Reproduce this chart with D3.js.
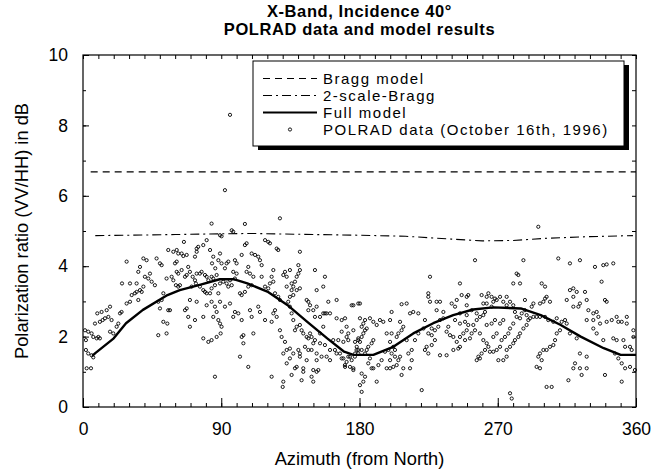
<!DOCTYPE html>
<html>
<head>
<meta charset="utf-8">
<script src="https://cdn.jsdelivr.net/npm/d3@7"></script>
<style>
  html, body { margin: 0; padding: 0; background: #fff; }
  svg { display: block; font-family: "Liberation Sans", Arial, Helvetica, sans-serif; }
</style>
</head>
<body>
<svg id="chart" width="653" height="473"></svg>
<script>
// ---------- data ----------
const titleLines = ["X-Band, Incidence 40°", "POLRAD data and model results"];
const xTitle = "Azimuth (from North)";
const yTitle = "Polarization ratio (VV/HH) in dB";
const xMajorTicks = [0, 90, 180, 270, 360];
const yMajorTicks = [0, 2, 4, 6, 8, 10];
const legendLabels = ["Bragg model", "2-scale-Bragg", "Full model", "POLRAD data (October 16th, 1996)"];

const braggAz = [5, 360];
const braggDb = [6.68, 6.68];

const twoScaleAz = [8, 30, 60, 90, 110, 150, 180, 210, 240, 260, 280, 300, 330, 358];
const twoScaleDb = [4.87, 4.88, 4.9, 4.92, 4.93, 4.9, 4.88, 4.85, 4.77, 4.72, 4.73, 4.79, 4.84, 4.87];

const fullAz = [6, 8, 20, 28, 39, 55, 63, 76, 89, 98, 107, 120, 133, 146, 159, 170, 176, 189, 202, 215, 228, 241, 254, 267, 285, 298, 311, 324, 339, 350, 360];
const fullDb = [1.45, 1.53, 1.95, 2.38, 2.76, 3.18, 3.32, 3.47, 3.63, 3.63, 3.51, 3.28, 2.9, 2.42, 1.95, 1.57, 1.48, 1.48, 1.71, 2.09, 2.38, 2.61, 2.77, 2.83, 2.8, 2.61, 2.33, 2.0, 1.67, 1.48, 1.48];

// POLRAD measurements [azimuth, ratio dB]
const polradA = [
[1.3,2.18],[3.4,2.14],[5.6,2.09],[6.7,1.99],[8.9,1.95],[1.9,1.62],[3.4,1.52],[5.6,1.47],[6.7,1.41],[2.4,1.1],[5.2,1.1],[1.9,1.9],[10,1.99],[11,1.95],[7.8,2.37],[11,2.42],[12.8,2.47],[9.3,2.66],[12.1,2.7],[15.4,2.75],[17.6,2.85],[14.3,2.52],[16.5,2.56],[18.6,2.47],[17.6,2.14],[19.7,2.09],[21.9,2.28],[23,2.37],[24.1,2.66],[25.1,2.7],[28.4,2.94],[30.6,2.99],[31.7,3.18],[33.8,3.23],[34.9,3.27],[37.1,3.32],[36,3.04],[38.2,3.27],[39.3,3.42],[25.4,3.51],[30.6,3.51],[34.9,3.51],[28.4,4.13],[36,3.84],[37.1,3.98],[39.3,4.22],[41.4,4.17],[40.3,3.7],[42.5,3.65],[43.6,3.79],[44.7,3.56],[46.8,3.46],[47.9,4.22],[50.1,4.08],[51.2,4.03],[49,2.99],[51.2,3.04],[52.3,3.23],[50.1,2.8],[49,2.04],[54.4,2.09],[52.3,2.42],[54.9,2.37],[55.5,2.75],[56.6,2.75],[54.4,3.65],[57.7,3.7],[58.8,3.6],[60.5,3.46],[62,3.42],[63.1,3.46],[61,3.84],[62,3.79],[64.2,3.89],[55.5,4.46],[58.8,4.41],[59.9,4.08],[61,4.13],[64.2,4.36],[65.3,4.29],[67.5,4.32],[68.5,3.98],[67.5,3.75],[66.4,3.7],[69.6,3.84],[71.4,3.7],[70.7,3.42],[73.5,3.51],[72.9,3.6],[74,3.79],[76.1,3.79],[77.2,3.84],[79.4,3.75],[80.5,3.7],[81.6,3.6],[83.7,3.7],[84.8,3.65],[87,3.75],[86.1,3.94],[84,4.08],[84.8,4.27],[88.1,4.17],[89.2,4.36],[90.2,4.08],[82.7,4.46],[80.5,4.74],[78.3,4.6],[74,4.41],[72.9,4.27],[74,4.5],[75,4.55],[65.7,4.69],[61,4.46],[62,4.36],[76.1,3.42],[78.3,3.32],[79.4,3.27],[80.5,3.23],[82.7,3.23],[83.7,3.37],[85.9,3.46],[89.2,3.51],[91.3,3.56],[93.5,3.51],[94.6,3.42],[96.8,3.46],[95.7,3.6],[98.9,3.65],[100,3.79],[97.8,3.84],[93.5,4.08],[94.6,4.13],[92.4,3.94],[95.7,2.94],[92.4,2.85],[89.2,2.99],[88.1,3.23],[85.9,2.85],[87,2.7],[84.8,2.56],[88.1,2.47],[89.2,2.37],[90.2,2.28],[89.6,2.09],[87,1.99],[83.7,1.9],[81.6,1.85],[78.3,1.95],[85.9,0.86],[74,2.99],[69.6,3.04],[67.5,2.8],[66.4,2.75],[68.5,2.56],[72.9,2.47],[69.6,2.28],[78.3,2.56],[80.5,2.89],[83.7,2.99],[92.4,6.16],[83.7,5.21],[89.2,4.88],[90.2,4.85],[96.8,5.02],[97.8,4.98],[105.4,5.2],[106.5,4.65],[105.4,4.6],[103.3,4.32],[100,4.08],[98.9,4.17],[98.9,2.7],[97.8,2.56],[101.1,2.66],[102.2,3.23],[103.3,3.18],[105.4,3.27],[107.6,3.42],[109.8,3.46],[110.9,3.7],[108.7,3.79],[106.5,3.84],[107.6,3.98],[109.8,4.36],[112,4.32],[114.1,4.27],[116.3,4.03],[115.2,4.17],[118.5,4.74],[120.6,4.69],[121.7,4.65],[126.1,4.5],[127.1,4.46],[128.2,5.36],[123.9,3.89],[122.8,3.7],[116.3,3.7],[118.5,3.42],[120.6,3.37],[121.7,3.51],[123.9,3.56],[125,3.23],[127.1,3.13],[128.2,3.04],[125,2.75],[123.9,2.66],[122.8,2.42],[118.5,2.47],[115.2,2.7],[114.1,2.85],[109.8,2.56],[108.7,2.75],[103.3,2.47],[104.4,2.04],[103.3,1.99],[104.4,1.81],[110.9,2.09],[107.6,1.14],[102.2,1.43],[122.8,0.86],[126.1,2.56],[128.2,2.18],[129.3,1.99],[131.5,1.85],[132.6,1.62],[130.4,1.52],[130.4,0.72],[130,0.57],[134.7,1.66],[136.9,1.52],[140.2,1.62],[141.2,1.52],[134.7,1.38],[132.6,1.24],[135.8,0.91],[138,1.1],[139.1,1.14],[141.2,1.43],[142.3,0.76],[145.6,1.33],[146.7,1.62],[144.5,1.71],[148.8,1.62],[149.9,1.81],[151,1.9],[148.8,1.99],[146.7,1.95],[145.6,1.99],[143.4,2.09],[142.3,2.18],[141.2,2.33],[139.1,2.28],[138,2.18],[136.9,2.47],[135.8,2.66],[134.7,2.85],[133.6,2.99],[134.7,3.13],[136.9,3.18],[136.9,3.42],[135.8,3.51],[138,3.56],[139.1,3.7],[140.2,3.79],[141.2,3.89],[134.7,3.89],[131.5,3.84],[132.6,3.7],[130.4,3.75],[132.6,3.42],[135.8,3.32],[139.1,3.32],[141.2,3.37],[141.2,4.41],[140.2,4.03],[145.6,3.04],[146.7,2.99],[147.8,2.89],[146.7,2.75],[149.9,2.75],[152.1,2.85],[151,2.56],[154.3,2.56],[156.4,2.66],[157.5,2.66],[158.6,2.66],[152.1,3.32],[156.4,3.42],[159.7,2.99],[165.1,3.04],[160.8,2.66],[165.1,2.52],[168.4,2.47],[171.6,2.28],[172.7,2.09],[172.7,1.9],[169.5,1.85],[166.2,1.9],[162.9,1.9],[164,1.62],[165.1,1.52],[168.4,1.38],[170.5,1.19],[171.6,1.28],[173.8,1.14],[176,1.05],[160.8,1.33],[158.6,1.43],[155.3,1.43],[152.1,1.33],[153.2,1.05],[149.9,1.05],[152.1,1.0],[148.8,0.86],[149.9,0.72],[143.4,1.1],[143.4,1.0],[147.8,2.09],[154.3,2.09],[156.4,2.28],[154.3,1.81],[157.5,1.76],[160.8,1.62],[152.1,1.52],[151,3.89],[157.5,3.7],[176,2.89],[179.2,2.94],[176,2.18],[179.2,1.95],[178.1,1.62],[173.8,1.43],[177,1.43],[179.2,1.52],[95.7,8.3]
];
const polradB = [
[170.6,2.52],[168.4,2.14],[171.6,1.99],[167.3,1.52],[169.5,1.38],[172.7,1.43],[174.9,1.33],[170.6,1.14],[176,1.1],[177.1,1.52],[179.2,1.62],[178.2,1.71],[180.3,1.85],[181.4,1.99],[182.5,2.09],[183.6,2.18],[184.7,2.23],[182.5,2.37],[183.6,2.47],[180.3,2.52],[181.4,2.28],[179.2,1.9],[177.1,1.85],[181.4,1.62],[183.6,1.52],[184.7,1.62],[185.7,1.71],[187.9,1.81],[189,1.9],[186.8,1.38],[185.7,1.24],[187.9,1.1],[181.4,0.95],[183.6,0.86],[182.5,0.72],[180.3,0.62],[181.4,0.43],[189,1.1],[191.2,0.72],[192.3,1.19],[194.4,1.33],[197.7,1.1],[199.9,1.1],[202,1.14],[204.2,1.19],[205.3,1.33],[206.4,1.43],[203.1,1.43],[200.9,1.52],[198.8,1.62],[196.6,1.57],[199.9,1.33],[203.1,1.62],[202,1.71],[199.9,1.85],[197.7,2.09],[200.9,2.09],[204.2,1.99],[205.3,2.09],[207.4,2.18],[208.5,2.28],[206.4,2.42],[199.9,2.47],[195.5,2.42],[189,2.42],[191.2,2.33],[193.3,2.47],[186.8,2.52],[174.9,2.89],[180.3,2.94],[200.9,2.7],[207.4,2.92],[210.7,2.94],[212.9,2.66],[215,2.7],[218.3,2.66],[222.6,2.47],[221.6,2.23],[218.3,2.09],[216.1,1.9],[214,1.62],[210.7,1.9],[211.8,1.52],[214,1.33],[207.4,0.91],[208.5,1.1],[212.9,1.1],[220.5,0.48],[223.7,1.71],[227,1.76],[224.8,1.52],[222.6,1.62],[224.8,2.09],[227,2.04],[229.1,2.18],[231.3,2.28],[232.4,2.47],[234.6,2.52],[234.6,2.7],[230.2,2.75],[225.9,2.99],[224.8,3.13],[224.8,3.23],[230.2,2.99],[232.4,2.99],[240,2.94],[243.3,3.04],[246.5,3.18],[249.8,3.13],[250.8,3.18],[225.9,3.7],[227,2.23],[229.1,1.9],[232.4,1.47],[236.7,1.47],[241.1,1.62],[244.3,1.66],[245.4,1.71],[243.3,1.85],[241.1,1.99],[238.9,2.04],[236.7,2.14],[237.8,2.28],[242.2,2.47],[245.4,2.37],[248.7,2.42],[250.8,2.33],[249.8,2.18],[247.6,2.09],[245.4,1.99],[248.7,1.9],[251.9,1.95],[253,2.09],[255.2,2.18],[254.1,2.33],[256.3,2.47],[249.8,2.61],[245.4,2.66],[242.2,2.85],[249.8,2.89],[253,2.75],[256.3,2.66],[258.4,2.56],[260.6,2.61],[261.7,2.7],[260.6,2.94],[259.5,3.18],[262.8,3.13],[263.9,3.23],[266,3.13],[262.8,2.94],[266,2.85],[267.1,2.99],[268.2,3.08],[269.3,3.04],[271.5,3.13],[273.6,2.99],[275.8,2.89],[275.8,3.13],[278,2.99],[280.1,2.89],[281.2,2.7],[282.3,2.56],[284.5,2.52],[280.1,2.37],[278,2.23],[276.9,2.09],[274.7,1.99],[272.5,1.9],[271.5,1.71],[269.3,1.62],[267.1,1.57],[264.9,1.57],[261.7,1.62],[259.5,1.52],[257.4,1.43],[256.3,1.33],[258.4,1.38],[267.1,1.99],[269.3,2.09],[271.5,2.37],[273.6,2.47],[268.2,2.47],[266,2.37],[262.8,2.33],[258.4,2.09],[260.6,1.9],[262.8,1.81],[263.9,1.71],[270.4,1.33],[273.6,1.33],[275.8,1.43],[275.8,1.62],[278,1.71],[280.1,1.81],[281.2,1.9],[283.4,1.99],[284.5,2.09],[286.7,2.23],[288.8,2.33],[289.9,2.47],[291,2.52],[293.2,2.56],[295.3,2.56],[288.8,2.61],[285.6,2.66],[287.7,2.75],[287.7,3.04],[292.1,2.85],[293.2,2.94],[284.5,3.51],[283.4,3.75],[282.3,3.79],[286.7,4.17],[280.1,3.51],[255.2,4.17],[245.4,3.51],[296.4,5.12],[298.6,3.51],[300.8,3.42],[301.8,3.13],[299.7,2.99],[297.5,2.94],[304,2.99],[300.8,3.08],[297.5,2.56],[300.8,2.56],[302.9,2.47],[306.2,2.42],[308.4,2.52],[311.6,2.42],[313.8,2.47],[314.9,2.37],[310.5,2.18],[308.4,2.09],[307.3,1.9],[306.2,1.76],[304,1.71],[301.8,1.62],[299.7,1.62],[297.5,1.52],[296.4,1.43],[298.6,1.33],[295.3,1.14],[297.5,1.1],[301.8,0.57],[305.1,0.57],[309.4,4.22],[317,4.08],[323.5,4.17],[333.3,3.98],[338.7,4.03],[340.9,4.05],[345.2,4.08],[337.6,3.56],[317,3.32],[319.2,3.37],[321.4,3.27],[326.8,3.27],[314.9,3.04],[319.2,3.13],[323.5,2.94],[327.9,3.04],[339.8,3.04],[340.9,2.99],[319.2,2.85],[322.5,2.85],[327.9,2.47],[332.2,2.47],[336.6,2.37],[334.4,2.7],[329,2.75],[332.2,2.66],[335.5,2.56],[340.9,2.42],[344.2,2.47],[347.4,2.56],[348.5,2.42],[354,2.56],[350.7,2.42],[354,2.37],[317,2.09],[321.4,1.95],[332.2,2.23],[334.4,2.09],[338.7,1.9],[345.2,1.95],[347.4,1.9],[351.8,1.9],[352.9,1.71],[356.1,1.71],[346.3,1.52],[348.5,1.38],[350.7,1.24],[352.9,1.1],[356.1,1.14],[327.9,1.43],[323.5,1.52],[320.3,1.24],[323.5,1.1],[324.6,0.91],[316,0.76],[319.2,1.1],[327.9,1.1],[339.8,0.91],[350.7,0.72],[358.3,2.18],[358.3,1.99],[357.2,1.62],[359.3,1.05],[278,0.39],[279.1,0.24]
];

// ---------- layout ----------
const svg = d3.select("#chart");
const pL = 83, pR = 636, pT = 55, pB = 407;
const x = d3.scaleLinear().domain([0, 360]).range([pL, pR]);
const y = d3.scaleLinear().domain([0, 10]).range([pB, pT]);
const FONT = "Liberation Sans, Arial, sans-serif";

// title
svg.selectAll("text.title").data(titleLines).enter().append("text")
  .attr("class", "title")
  .attr("x", (pL + pR) / 2)
  .attr("y", (d, i) => 16.5 + i * 18.5)
  .attr("text-anchor", "middle")
  .attr("font-size", 16.5).attr("font-weight", "bold")
  .attr("letter-spacing", 0.6)
  .text(d => d);

// axes with inward ticks
const minorX = d3.range(0, 361, 10);
const minorY = d3.range(0, 11, 1);

function clean(g) { g.select(".domain").remove(); g.selectAll("line").attr("stroke", "#000"); }

svg.append("g").attr("transform", `translate(0,${pB})`)
  .call(d3.axisBottom(x).tickValues(minorX).tickSize(-4).tickFormat(""))
  .call(clean);
svg.append("g").attr("transform", `translate(0,${pB})`)
  .call(d3.axisBottom(x).tickValues(xMajorTicks).tickSize(-9).tickPadding(16).tickFormat(d3.format("d")))
  .call(clean)
  .call(g => g.selectAll("text").attr("font-size", 17.5).attr("fill", "#000").attr("font-family", FONT));
svg.append("g").attr("transform", `translate(0,${pT})`)
  .call(d3.axisTop(x).tickValues(minorX).tickSize(-4).tickFormat(""))
  .call(clean);
svg.append("g").attr("transform", `translate(${pL},0)`)
  .call(d3.axisLeft(y).tickValues(minorY).tickSize(-3).tickFormat(""))
  .call(clean);
svg.append("g").attr("transform", `translate(${pL},0)`)
  .call(d3.axisLeft(y).tickValues(yMajorTicks).tickSize(-6).tickPadding(15).tickFormat(d3.format("d")))
  .call(clean)
  .call(g => g.selectAll("text").attr("font-size", 17.5).attr("fill", "#000").attr("font-family", FONT));
svg.append("g").attr("transform", `translate(${pR},0)`)
  .call(d3.axisRight(y).tickValues(minorY).tickSize(-4).tickFormat(""))
  .call(clean);

// frame
svg.append("rect").attr("x", pL).attr("y", pT).attr("width", pR - pL).attr("height", pB - pT)
  .attr("fill", "none").attr("stroke", "#000").attr("stroke-width", 1.2);

// axis titles
svg.append("text").attr("x", (pL + pR) / 2).attr("y", 465)
  .attr("text-anchor", "middle").attr("font-size", 18.3).text(xTitle);
svg.append("text").attr("transform", `translate(28,${(pT + pB) / 2}) rotate(-90)`)
  .attr("text-anchor", "middle").attr("font-size", 18.3).text(yTitle);

// lines
const line = d3.line().x(d => x(d[0])).y(d => y(d[1]));
const zip = (a, b) => a.map((v, i) => [v, b[i]]);

svg.append("path").datum(zip(braggAz, braggDb)).attr("d", line)
  .attr("fill", "none").attr("stroke", "#000").attr("stroke-width", 1.1).attr("stroke-dasharray", "7,5");
svg.append("path").datum(zip(twoScaleAz, twoScaleDb)).attr("d", line)
  .attr("fill", "none").attr("stroke", "#000").attr("stroke-width", 1.1).attr("stroke-dasharray", "9,4,2,4");

// data points
const pts = polradA.concat(polradB);
svg.append("g").selectAll("circle").data(pts).enter().append("circle")
  .attr("cx", d => x(d[0])).attr("cy", d => y(d[1])).attr("r", 1.6)
  .attr("fill", "none").attr("stroke", "#000").attr("stroke-width", 0.9);

svg.append("path").datum(zip(fullAz, fullDb)).attr("d", line)
  .attr("fill", "none").attr("stroke", "#000").attr("stroke-width", 2.4).attr("stroke-linejoin", "round");

// legend
const lg = { x: 253, y: 61, w: 371, h: 85 };
svg.append("rect").attr("x", lg.x + 5).attr("y", lg.y + 4).attr("width", lg.w).attr("height", lg.h).attr("fill", "#000");
svg.append("rect").attr("x", lg.x).attr("y", lg.y).attr("width", lg.w).attr("height", lg.h)
  .attr("fill", "#fff").attr("stroke", "#000").attr("stroke-width", 1);
const rowY = i => 78.5 + i * 17;
const styles = [
  { dash: "7,5", w: 1.1 },
  { dash: "9,4,2,4", w: 1.1 },
  { dash: null, w: 2.2 },
  null
];
styles.forEach((s, i) => {
  if (s) {
    svg.append("line").attr("x1", 263).attr("x2", 317).attr("y1", rowY(i)).attr("y2", rowY(i))
      .attr("stroke", "#000").attr("stroke-width", s.w).attr("stroke-dasharray", s.dash);
  } else {
    svg.append("circle").attr("cx", 290).attr("cy", rowY(i)).attr("r", 1.6)
      .attr("fill", "none").attr("stroke", "#000").attr("stroke-width", 0.9);
  }
});
svg.selectAll("text.leg").data(legendLabels).enter().append("text")
  .attr("class", "leg").attr("x", 323).attr("y", (d, i) => rowY(i) + 5.4)
  .attr("font-size", 15).attr("letter-spacing", 1.5).text(d => d);
</script>
</body>
</html>
